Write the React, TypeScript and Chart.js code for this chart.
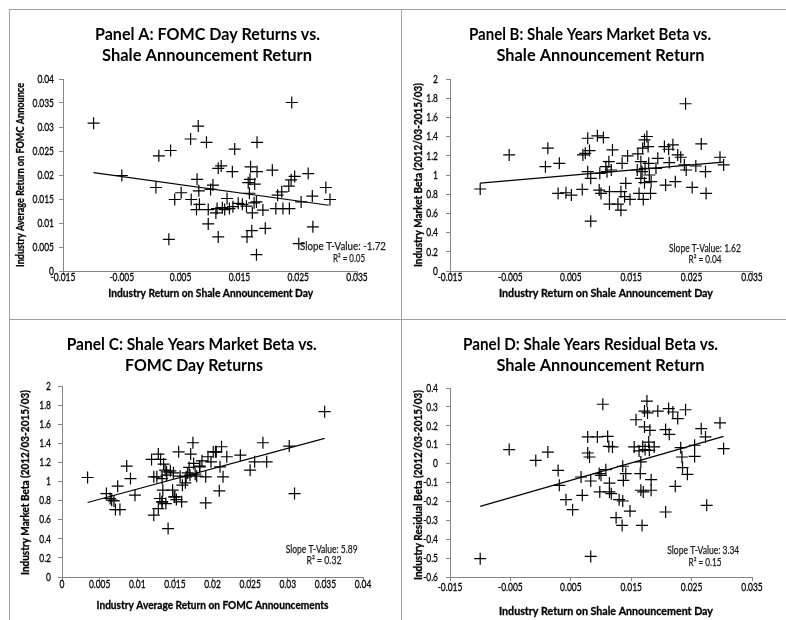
import React, { useEffect, useRef } from "react";
import { Chart, registerables } from "chart.js";
Chart.register(...registerables);

// ---------------- Panel A: FOMC day returns vs shale announcement return
const panelA_shale = [
  -0.0098, -0.005, 0.0008, 0.0013, 0.0033, 0.003, 0.0051, 0.004, 0.0067, 0.0068,
  0.008, 0.0078, 0.0081, 0.0077, 0.0082, 0.0094, 0.0097, 0.0097, 0.0101, 0.0105,
  0.011, 0.0112, 0.0114, 0.0119, 0.0114, 0.0121, 0.0129, 0.0133, 0.0138, 0.0142,
  0.0139, 0.0148, 0.0155, 0.0162, 0.0165, 0.0163, 0.0169, 0.0167, 0.0172, 0.0171,
  0.0176, 0.018, 0.0179, 0.018, 0.0179, 0.019, 0.0194, 0.0206, 0.0212, 0.0215,
  0.0222, 0.0224, 0.0235, 0.0234, 0.0239, 0.0238, 0.0244, 0.0251, 0.0255, 0.0267,
  0.0274, 0.0275, 0.0297, 0.0304, 0.0125, 0.0175, 0.0168,
];
const panelA_fomc = [
  0.0308, 0.0199, 0.0174, 0.024, 0.0251, 0.0066, 0.0163, 0.0149, 0.0275, 0.0149,
  0.0302, 0.0191, 0.0167, 0.0128, 0.0139, 0.0268, 0.0098, 0.0128, 0.017, 0.0179,
  0.0121, 0.013, 0.0214, 0.0219, 0.0071, 0.0132, 0.0151, 0.013, 0.0207, 0.0254,
  0.0134, 0.0141, 0.0139, 0.0135, 0.0184, 0.0071, 0.0217, 0.0162, 0.0121, 0.0084,
  0.0181, 0.0268, 0.0034, 0.0207, 0.0144, 0.0127, 0.0089, 0.021, 0.013, 0.0158,
  0.0165, 0.013, 0.013, 0.0177, 0.0351, 0.019, 0.0197, 0.0057, 0.0144, 0.0203,
  0.0156, 0.0092, 0.0174, 0.0149, 0.0128, 0.0142, 0.0191,
];
const trendA_x = [-0.0098, 0.0302];
const trendA_y = [0.0205, 0.0137];

// ---------------- Panel B: market beta vs shale announcement return
const panelB_shale = [
  -0.01, -0.0052, 0.0012, 0.0008, 0.0031, 0.0029, 0.0042, 0.0051, 0.0069, 0.007,
  0.0074, 0.0078, 0.0081, 0.0078, 0.0083, 0.0083, 0.0094, 0.0104, 0.0098, 0.0097,
  0.01, 0.0108, 0.0113, 0.011, 0.0117, 0.0114, 0.0114, 0.0119, 0.0128, 0.0135,
  0.0133, 0.0133, 0.0139, 0.0141, 0.0144, 0.0148, 0.0161, 0.016, 0.0163, 0.0166,
  0.0166, 0.0168, 0.0169, 0.017, 0.0172, 0.0173, 0.0172, 0.0176, 0.0178, 0.0179,
  0.018, 0.0182, 0.0183, 0.0191, 0.0194, 0.0205, 0.0207, 0.0212, 0.0213, 0.0219,
  0.0223, 0.0227, 0.0232, 0.0238, 0.024, 0.0241, 0.0251, 0.0257, 0.0266, 0.0273,
  0.0274, 0.0297, 0.0303,
];
const panelB_beta = [
  0.854, 1.209, 1.279, 1.087, 1.122, 0.808, 0.815, 0.791, 0.85, 1.209,
  1.226, 1.383, 1.254, 1.035, 0.965, 0.519, 1.408, 1.39, 1.017, 0.843,
  0.808, 1.087, 1.139, 1.035, 1.052, 0.826, 0.697, 1.261, 0.697, 1.122,
  0.826, 0.634, 0.774, 0.913, 1.199, 0.746, 1.22, 1.052, 0.808, 1.139,
  0.965, 1.035, 1.279, 0.746, 0.92, 1.07, 1.366, 1.401, 1.296, 1.122,
  1.0, 0.808, 0.93, 1.07, 1.174, 1.296, 0.895, 1.268, 1.129, 1.314,
  0.93, 1.209, 1.185, 1.105, 1.742, 1.052, 0.871, 1.094, 1.324, 1.035,
  0.808, 1.185, 1.105,
];
const trendB_x = [-0.01, 0.0302];
const trendB_y = [0.915, 1.135];

// ---------------- Panel C: market beta vs FOMC day returns
const panelC_fomc = [
  0.0034, 0.0059, 0.0064, 0.0069, 0.0071, 0.0074, 0.0077, 0.0086, 0.0091, 0.0097,
  0.0119, 0.0122, 0.0122, 0.0128, 0.0128, 0.0126, 0.013, 0.0131, 0.0133, 0.0134,
  0.0133, 0.0135, 0.0137, 0.0138, 0.0139, 0.0141, 0.0144, 0.0148, 0.0147, 0.0149,
  0.0152, 0.0155, 0.0157, 0.0159, 0.016, 0.0164, 0.0165, 0.0169, 0.017, 0.0171,
  0.0174, 0.0175, 0.0177, 0.0179, 0.0183, 0.0186, 0.0183, 0.0191, 0.0191, 0.0194,
  0.0198, 0.0201, 0.0205, 0.0209, 0.0212, 0.021, 0.0214, 0.0219, 0.0237, 0.025,
  0.0256, 0.0267, 0.0272, 0.0302, 0.0309, 0.0349, 0.0066, 0.0139, 0.0167, 0.0204,
  0.0133, 0.015,
];
const panelC_beta = [
  1.042, 0.874, 0.822, 0.797, 0.706, 0.951, 0.706, 1.161, 1.031, 0.857,
  1.231, 1.049, 0.647, 0.717, 1.287, 1.049, 0.822, 1.231, 1.031, 0.909,
  0.787, 1.182, 1.119, 0.769, 1.066, 0.507, 1.112, 1.091, 0.909, 0.839,
  0.811, 1.311, 1.056, 0.787, 0.962, 0.986, 1.049, 1.147, 1.066, 1.287,
  1.406, 1.189, 1.077, 1.056, 1.154, 1.217, 1.161, 1.049, 0.776, 1.259,
  1.206, 1.311, 1.311, 0.902, 1.364, 1.154, 1.049, 1.259, 1.276, 1.119,
  1.206, 1.406, 1.206, 1.371, 0.874, 1.731, 0.804, 1.101, 1.09, 1.311,
  0.787, 0.839,
];
const trendC_x = [0.0034, 0.0349];
const trendC_y = [0.78, 1.451];

// ---------------- Panel D: residual beta vs shale announcement return
const panelD_shale = [
  -0.01, -0.0052, -0.0008, 0.0012, 0.0029, 0.0031, 0.0042, 0.0053, 0.0067, 0.0069,
  0.0078, 0.0078, 0.0081, 0.0083, 0.0083, 0.0094, 0.0097, 0.0098, 0.01, 0.0103,
  0.0108, 0.0111, 0.0113, 0.0114, 0.0114, 0.0119, 0.0117, 0.0125, 0.013, 0.0135,
  0.0136, 0.0137, 0.0136, 0.0141, 0.0148, 0.0155, 0.0158, 0.0163, 0.0165, 0.0166,
  0.0166, 0.0168, 0.0169, 0.017, 0.0172, 0.0172, 0.0173, 0.0176, 0.0177, 0.0179,
  0.018, 0.0181, 0.0183, 0.0183, 0.0188, 0.0194, 0.0207, 0.0207, 0.0212, 0.0213,
  0.0219, 0.0223, 0.0227, 0.0232, 0.0234, 0.0235, 0.024, 0.0243, 0.0255, 0.0255,
  0.0266, 0.0273, 0.0275, 0.0297, 0.0303,
];
const panelD_resid = [
  -0.503, 0.074, 0.017, 0.061, -0.036, -0.115, -0.191, -0.244, -0.071, -0.168,
  0.141, 0.056, 0.035, -0.092, -0.491, 0.141, -0.053, -0.15, -0.062, 0.314,
  -0.032, 0.144, 0.091, -0.103, -0.15, 0.088, -0.159, -0.286, -0.191, -0.327,
  -0.014, -0.089, -0.198, -0.053, -0.251, 0.088, 0.232, 0.067, -0.053, 0.009,
  -0.141, -0.327, 0.091, -0.15, 0.278, 0.194, 0.074, 0.331, 0.268, 0.114,
  0.07, 0.176, -0.085, -0.141, 0.088, 0.278, -0.256, 0.18, 0.291, 0.155,
  0.273, -0.12, 0.238, 0.084, 0.035, -0.021, 0.285, -0.057, 0.097, 0.038,
  0.185, 0.141, -0.221, 0.215, 0.079,
];
const trendD_x = [-0.01, 0.0303];
const trendD_y = [-0.226, 0.144];

// ---------------- annotation labels
const statsA = ["Slope T-Value: -1.72", "R\u00b2 = 0.05"];
const statsB = ["Slope T-Value: 1.62", "R\u00b2 = 0.04"];
const statsC = ["Slope T-Value: 5.89", "R\u00b2 = 0.32"];
const statsD = ["Slope T-Value: 3.34", "R\u00b2 = 0.15"];

const H = 310;
const AXIS = "#868686";
const TEXT_FONT = "Lato, 'Open Sans', sans-serif";
const TICK_SIZE = 11.5;
const TICK_REF_WIDTH = 21.5; // width of the label "0.035" in the reference

type TextSpec = {
  text: string;
  x: number;
  y: number;
  size: number;
  bold?: boolean;
  width?: number;
  rotate?: boolean;
  baseline?: CanvasTextBaseline;
  color?: string;
  stroke?: number;
};

type PanelSpec = {
  left: number;
  top: number;
  w: number;
  plot: { l: number; r: number; t: number; b: number };
  xs: number[];
  ys: number[];
  tx: number[];
  ty: number[];
  xMin: number;
  xMax: number;
  xStep: number;
  yMin: number;
  yMax: number;
  yStep: number;
  xLabOff: number;
  yLabGap: number;
  texts: TextSpec[];
};

const fmt = (v: number | string) => String(Math.round(Number(v) * 10000) / 10000);

function drawText(ctx: CanvasRenderingContext2D, t: TextSpec) {
  ctx.save();
  ctx.font = `${t.bold ? "bold " : ""}${t.size}px ${TEXT_FONT}`;
  ctx.fillStyle = t.color || "#000";
  ctx.strokeStyle = t.color || "#000";
  ctx.textAlign = "center";
  ctx.textBaseline = t.baseline || "middle";
  const w = ctx.measureText(t.text).width;
  const sx = t.width ? t.width / w : 1;
  ctx.translate(t.x, t.y);
  if (t.rotate) ctx.rotate(-Math.PI / 2);
  ctx.scale(sx, 1);
  ctx.fillText(t.text, 0, 0);
  if (t.stroke) {
    ctx.lineWidth = t.stroke;
    ctx.strokeText(t.text, 0, 0);
  }
  ctx.restore();
}

function drawTickLabels(chart: any, spec: PanelSpec) {
  const ctx = chart.ctx as CanvasRenderingContext2D;
  ctx.save();
  ctx.font = `${TICK_SIZE}px ${TEXT_FONT}`;
  ctx.fillStyle = "#000";
  ctx.strokeStyle = "#000";
  ctx.lineWidth = 0.3;
  ctx.textBaseline = "middle";
  const sx = TICK_REF_WIDTH / ctx.measureText("0.035").width;
  const xs = chart.scales.x;
  const ys = chart.scales.y;
  const area = chart.chartArea;
  const put = (label: string, x: number, y: number, align: CanvasTextAlign) => {
    ctx.save();
    ctx.translate(x, y);
    ctx.scale(sx, 1);
    ctx.textAlign = align;
    ctx.fillText(label, 0, 0);
    ctx.strokeText(label, 0, 0);
    ctx.restore();
  };
  xs.ticks.forEach((t: any) => {
    put(fmt(t.value), xs.getPixelForValue(t.value), area.bottom + spec.xLabOff, "center");
  });
  ys.ticks.forEach((t: any) => {
    put(fmt(t.value), area.left - spec.yLabGap, ys.getPixelForValue(t.value), "right");
  });
  ctx.restore();
}

function titleTexts(l1: string, c1: number, w1: number, l2: string, c2: number, w2: number): TextSpec[] {
  return [
    { text: l1, x: c1, y: 29.5, size: 17.5, bold: true, width: w1, baseline: "alphabetic" },
    { text: l2, x: c2, y: 51, size: 17.5, bold: true, width: w2, baseline: "alphabetic" },
  ];
}

const AX_SIZE = 11.5;
const AX_STROKE = 0.3;
const ANN_SIZE = 11.5;
const ANN_STROKE = 0.25;
const ANN_COLOR = "#1a1a1a";

const panels: PanelSpec[] = [
  {
    left: 10, top: 10, w: 392,
    plot: { l: 53, r: 347, t: 69, b: 261 },
    xs: panelA_shale, ys: panelA_fomc, tx: trendA_x, ty: trendA_y,
    xMin: -0.015, xMax: 0.035, xStep: 0.01, yMin: 0, yMax: 0.04, yStep: 0.005,
    xLabOff: 6.3, yLabGap: 9,
    texts: [
      ...titleTexts("Panel A: FOMC Day Returns vs.", 197.5, 225, "Shale Announcement Return", 197, 210),
      { text: "Industry Return on Shale Announcement Day", x: 200.7, y: 283, size: AX_SIZE, bold: true, width: 205, stroke: AX_STROKE },
      { text: "Industry Average Return on FOMC Announce", x: 10.3, y: 165, size: AX_SIZE, bold: true, width: 184, rotate: true, stroke: AX_STROKE },
      { text: statsA[0], x: 333, y: 236.7, size: ANN_SIZE, width: 86, color: ANN_COLOR, stroke: ANN_STROKE },
      { text: statsA[1], x: 339, y: 248.3, size: ANN_SIZE, width: 32, color: ANN_COLOR, stroke: ANN_STROKE },
    ],
  },
  {
    left: 402, top: 10, w: 384,
    plot: { l: 48, r: 350, t: 69, b: 261 },
    xs: panelB_shale, ys: panelB_beta, tx: trendB_x, ty: trendB_y,
    xMin: -0.015, xMax: 0.035, xStep: 0.01, yMin: 0, yMax: 2, yStep: 0.2,
    xLabOff: 6.3, yLabGap: 12,
    texts: [
      ...titleTexts("Panel B: Shale Years Market Beta vs.", 188, 242, "Shale Announcement Return", 198.5, 208),
      { text: "Industry Return on Shale Announcement Day", x: 204, y: 283, size: AX_SIZE, bold: true, width: 214, stroke: AX_STROKE },
      { text: "Industry Market Beta (2012/03-2015/03)", x: 16, y: 165, size: AX_SIZE, bold: true, width: 184, rotate: true, stroke: AX_STROKE },
      { text: statsB[0], x: 303, y: 238.3, size: ANN_SIZE, width: 72, color: ANN_COLOR, stroke: ANN_STROKE },
      { text: statsB[1], x: 303, y: 249.3, size: ANN_SIZE, width: 33, color: ANN_COLOR, stroke: ANN_STROKE },
    ],
  },
  {
    left: 10, top: 320, w: 392,
    plot: { l: 52, r: 353, t: 66, b: 257 },
    xs: panelC_fomc, ys: panelC_beta, tx: trendC_x, ty: trendC_y,
    xMin: 0, xMax: 0.04, xStep: 0.005, yMin: 0, yMax: 2, yStep: 0.2,
    xLabOff: 7.3, yLabGap: 11,
    texts: [
      ...titleTexts("Panel C: Shale Years Market Beta vs.", 181.7, 250, "FOMC Day Returns", 184, 138),
      { text: "Industry Average Return on FOMC Announcements", x: 202.5, y: 285, size: AX_SIZE, bold: true, width: 232, stroke: AX_STROKE },
      { text: "Industry Market Beta (2012/03-2015/03)", x: 15, y: 162.5, size: AX_SIZE, bold: true, width: 185, rotate: true, stroke: AX_STROKE },
      { text: statsC[0], x: 311.7, y: 229.3, size: ANN_SIZE, width: 72, color: ANN_COLOR, stroke: ANN_STROKE },
      { text: statsC[1], x: 314, y: 240.7, size: ANN_SIZE, width: 35, color: ANN_COLOR, stroke: ANN_STROKE },
    ],
  },
  {
    left: 402, top: 320, w: 384,
    plot: { l: 48, r: 350, t: 68, b: 257 },
    xs: panelD_shale, ys: panelD_resid, tx: trendD_x, ty: trendD_y,
    xMin: -0.015, xMax: 0.035, xStep: 0.01, yMin: -0.6, yMax: 0.4, yStep: 0.1,
    xLabOff: 10, yLabGap: 12,
    texts: [
      ...titleTexts("Panel D: Shale Years Residual Beta vs.", 188.5, 255, "Shale Announcement Return", 198.5, 208),
      { text: "Industry Return on Shale Announcement Day", x: 204, y: 291.7, size: AX_SIZE, bold: true, width: 214, stroke: AX_STROKE },
      { text: "Industry Residual Beta (2012/03-2015/03)", x: 16, y: 165, size: AX_SIZE, bold: true, width: 190, rotate: true, stroke: AX_STROKE },
      { text: statsD[0], x: 301.3, y: 230.7, size: ANN_SIZE, width: 72, color: ANN_COLOR, stroke: ANN_STROKE },
      { text: statsD[1], x: 303, y: 242.3, size: ANN_SIZE, width: 33, color: ANN_COLOR, stroke: ANN_STROKE },
    ],
  },
];

function Panel({ spec }: { spec: PanelSpec }) {
  const ref = useRef<HTMLCanvasElement | null>(null);
  useEffect(() => {
    if (!ref.current) return;
    const points = spec.xs.map((x, i) => ({ x, y: spec.ys[i] }));
    const trend = spec.tx.map((x, i) => ({ x, y: spec.ty[i] }));
    const textPlugin = {
      id: "panelText",
      afterDraw(chart: any) {
        drawTickLabels(chart, spec);
        const ctx = chart.ctx as CanvasRenderingContext2D;
        spec.texts.forEach((t) => drawText(ctx, t));
      },
    };
    const axisCommon = {
      type: "linear",
      grid: { drawOnChartArea: false, drawTicks: true, tickLength: 4, color: AXIS, lineWidth: 1 },
      border: { display: true, color: AXIS, width: 1 },
    };
    const chart = new Chart(ref.current, {
      type: "scatter",
      data: {
        datasets: [
          {
            data: points,
            pointStyle: "cross",
            pointRadius: 6,
            pointHoverRadius: 6,
            borderWidth: 1.2,
            borderColor: "#000",
            backgroundColor: "#000",
          },
          {
            data: trend,
            showLine: true,
            pointRadius: 0,
            borderColor: "#000",
            borderWidth: 1.2,
            fill: false,
          },
        ],
      } as any,
      options: {
        animation: false,
        responsive: false,
        devicePixelRatio: 1,
        events: [],
        layout: { padding: { top: spec.plot.t, right: spec.w - spec.plot.r, bottom: 0, left: 0 } },
        plugins: { legend: { display: false }, tooltip: { enabled: false }, title: { display: false } },
        scales: {
          x: {
            ...axisCommon,
            position: "bottom",
            min: spec.xMin,
            max: spec.xMax,
            afterFit: (s: any) => { s.height = H - spec.plot.b; },
            ticks: { display: false, stepSize: spec.xStep, autoSkip: false, maxRotation: 0 },
          },
          y: {
            ...axisCommon,
            position: "left",
            min: spec.yMin,
            max: spec.yMax,
            afterFit: (s: any) => { s.width = spec.plot.l; },
            ticks: { display: false, stepSize: spec.yStep, autoSkip: false },
          },
        },
      } as any,
      plugins: [textPlugin],
    });
    return () => chart.destroy();
  }, [spec]);
  return (
    <canvas
      ref={ref}
      width={spec.w}
      height={H}
      style={{ position: "absolute", left: spec.left, top: spec.top, width: spec.w, height: H }}
    />
  );
}

const LINE = "#a0a0a0";

export default function App() {
  return (
    <div style={{ position: "absolute", left: 0, top: 0, width: 786, height: 620, overflow: "hidden", background: "#fff" }}>
      {panels.map((p, i) => (
        <Panel key={i} spec={p} />
      ))}
      <div style={{ position: "absolute", left: 9, top: 9, width: 1, height: 611, background: LINE }} />
      <div style={{ position: "absolute", left: 401, top: 9, width: 1, height: 611, background: LINE }} />
      <div style={{ position: "absolute", left: 9, top: 9, width: 777, height: 1, background: LINE }} />
      <div style={{ position: "absolute", left: 9, top: 319, width: 777, height: 1, background: LINE }} />
    </div>
  );
}
